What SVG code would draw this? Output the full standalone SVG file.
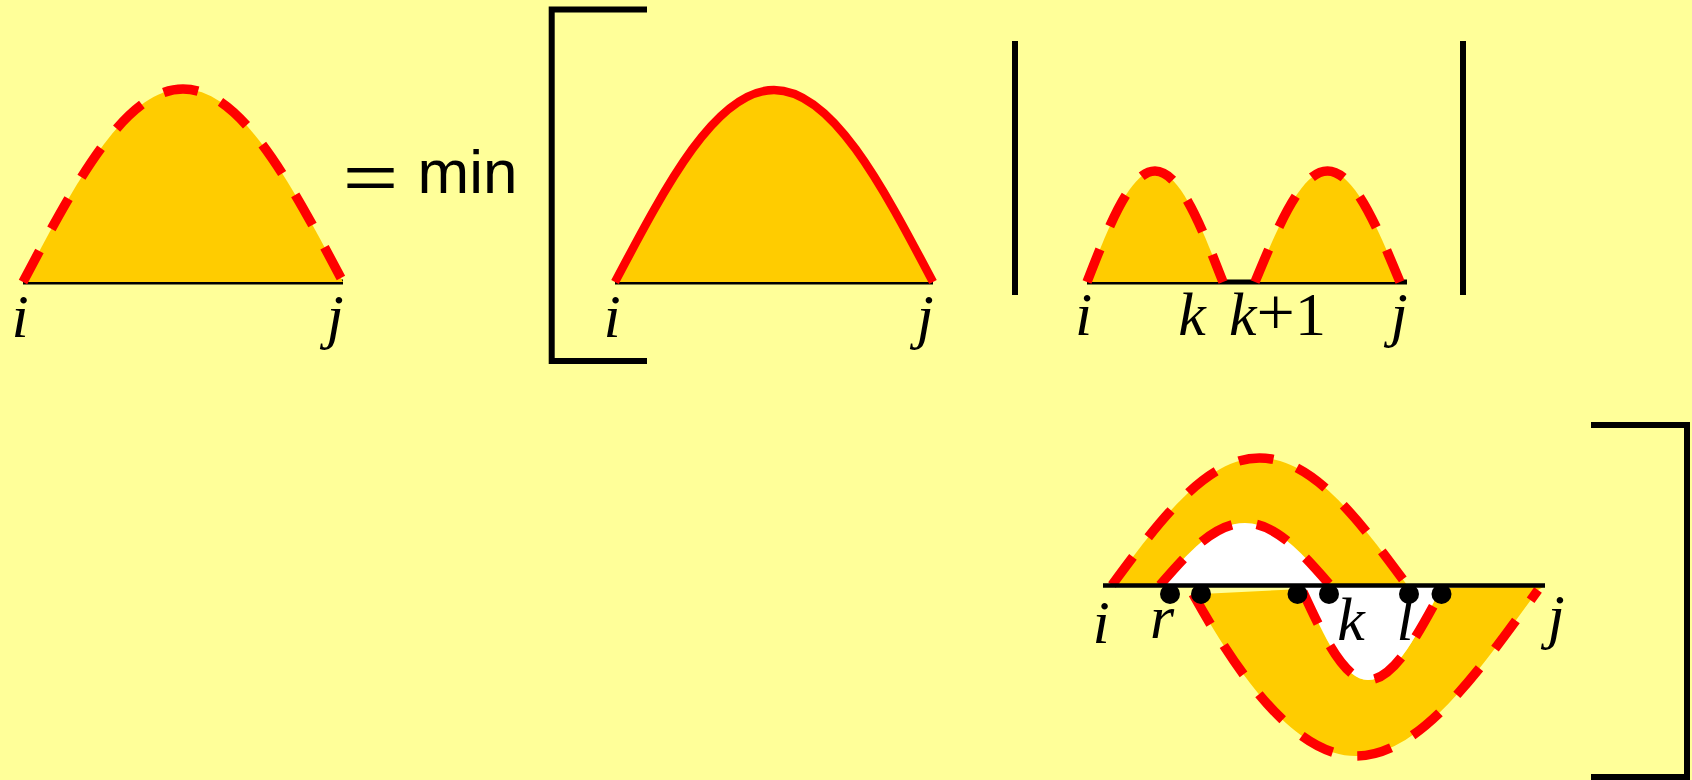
<svg xmlns="http://www.w3.org/2000/svg" width="1692" height="780" viewBox="0 0 1692 780">
<style>
.bg{fill:#FFFF99}
.fo{fill:#FFCC00}
.fw{fill:#FFFFFF}
.dash{fill:none;stroke:#FF0000;stroke-width:9.5;stroke-dasharray:35 25}
.solid{fill:none;stroke:#FF0000;stroke-width:8.5}
.base{stroke:#000;stroke-width:5;fill:none}
.line{stroke:#000;stroke-width:4.5;fill:none}
.br{stroke:#000;stroke-width:6;fill:none}
.lbl{font-family:"Liberation Serif","Times New Roman",serif;font-style:italic;font-size:62px;fill:#000}
.rom{font-style:normal}
.sans{font-family:"Liberation Sans",Arial,sans-serif;font-size:62px;fill:#000}
</style>
<rect class="bg" x="0" y="0" width="1692" height="780"/>

<g id="arch-left">
  <line class="base" x1="23" y1="282" x2="343" y2="282"/>
  <path class="fo" d="M23,282 C75.2,183.1 125.1,89 183,89 C240.9,89 290.8,183.1 343,282 Z"/>
  <path class="dash" d="M23,282 C75.2,183.1 125.1,89 183,89 C240.9,89 290.8,183.1 343,282"/>
  <text class="lbl" x="20" y="337" text-anchor="middle">i</text>
  <text class="lbl" x="335" y="337" text-anchor="middle">j</text>
</g>

<g id="eq-min">
  <text class="sans" x="342.7" y="198" textLength="55.6" lengthAdjust="spacingAndGlyphs">=</text>
  <text class="sans" x="417.6" y="193">min</text>
</g>

<g id="arch-middle">
  <line class="base" x1="615" y1="282" x2="933" y2="282"/>
  <path class="fo" d="M615,282 C666.9,183.6 716.4,90 774,90 C831.6,90 881.1,183.6 933,282 Z"/>
  <path class="solid" d="M615,282 C666.9,183.6 716.4,90 774,90 C831.6,90 881.1,183.6 933,282"/>
  <text class="lbl" x="612" y="337" text-anchor="middle">i</text>
  <text class="lbl" x="925" y="337" text-anchor="middle">j</text>
</g>

<g id="arch-twin">
  <line class="base" x1="1087" y1="282" x2="1407" y2="282"/>
  <path class="fo" d="M1087,282 C1109.2,225.1 1130.4,171 1155,171 C1179.6,171 1200.8,225.1 1223,282 Z"/>
  <path class="fo" d="M1255,282 C1278.6,225.1 1301.3,171 1327.5,171 C1353.7,171 1376.4,225.1 1400,282 Z"/>
  <path class="dash" d="M1087,282 C1109.2,225.1 1130.4,171 1155,171 C1179.6,171 1200.8,225.1 1223,282"/>
  <path class="dash" d="M1255,282 C1278.6,225.1 1301.3,171 1327.5,171 C1353.7,171 1376.4,225.1 1400,282"/>
  <text class="lbl" x="1083.5" y="335" text-anchor="middle">i</text>
  <text class="lbl" x="1192" y="335" text-anchor="middle">k</text>
  <text class="lbl" x="1229" y="335">k<tspan class="rom" font-size="68">+</tspan><tspan class="rom">1</tspan></text>
  <text class="lbl" x="1399" y="335" text-anchor="middle">j</text>
</g>

<g id="figure-bottom">
  <path class="fo" d="M1112,585 C1160.1,519.9 1206.1,458 1259.5,458 C1312.9,458 1358.9,519.9 1407,585 Z"/>
  <path class="fw" d="M1160,585 C1187.7,553.2 1214.2,523 1245,523 C1275.8,523 1302.3,553.2 1330,585 Z"/>
  <path class="fo" d="M1201,594 L1303,589 C1325,640 1345,680 1368,680 C1395,680 1420,630 1441,588 L1545,586 L1538,590 C1480,670 1420,756 1356,756 C1290,756 1230,660 1193,594 Z"/>
  <path class="fw" d="M1303,587 C1325,640 1345,680 1368,680 C1395,680 1420,630 1441,587 Z"/>
  <path class="dash" d="M1112,585 C1160.1,519.9 1206.1,458 1259.5,458 C1312.9,458 1358.9,519.9 1407,585"/>
  <path class="dash" d="M1160,585 C1187.7,553.2 1214.2,523 1245,523 C1275.8,523 1302.3,553.2 1330,585"/>
  <path class="dash" d="M1193,594 C1230,660 1290,756 1356,756 C1420,756 1480,670 1538,590"/>
  <path class="dash" d="M1303,592 C1325,640 1345,680 1368,680 C1395,680 1420,630 1441,592"/>
  <line class="line" x1="1103" y1="585.5" x2="1545" y2="585.5"/>
  <circle cx="1170" cy="594" r="10"/>
  <circle cx="1201" cy="594" r="10"/>
  <circle cx="1297.5" cy="594" r="10"/>
  <circle cx="1329" cy="594" r="10"/>
  <circle cx="1409" cy="594" r="10"/>
  <circle cx="1441.5" cy="594" r="10"/>
  <text class="lbl" x="1101" y="643" text-anchor="middle">i</text>
  <text class="lbl" x="1162" y="638" text-anchor="middle">r</text>
  <text class="lbl" x="1351" y="640" text-anchor="middle">k</text>
  <text class="lbl" x="1405" y="640" text-anchor="middle">l</text>
  <text class="lbl" x="1556" y="637" text-anchor="middle">j</text>
</g>

<g id="connectors">
  <path class="br" d="M647,9.5 L551.7,9.5 L551.7,361 L647,361"/>
  <line class="br" x1="1015" y1="41" x2="1015" y2="295"/>
  <line class="br" x1="1463" y1="41" x2="1463" y2="295"/>
  <path class="br" d="M1591,425 L1687,425 L1687,777 L1591,777"/>
</g>
</svg>
